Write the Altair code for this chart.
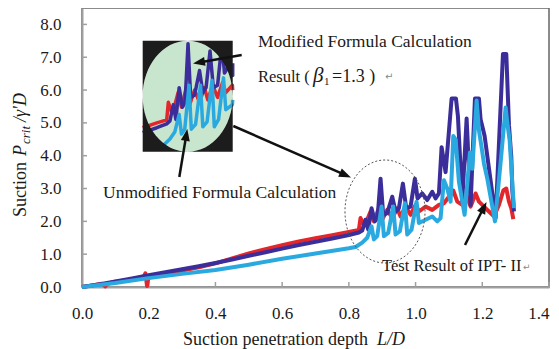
import math
import altair as alt
import pandas as pd

# ---------------- data ----------------
TEST_X = [0, 0.03, 0.06, 0.07, 0.075, 0.1, 0.13, 0.16, 0.185, 0.19, 0.195, 0.2, 0.25, 0.3, 0.35,
          0.4, 0.45, 0.5, 0.55, 0.6, 0.65, 0.7, 0.75, 0.8, 0.83, 0.835, 0.845, 0.855, 0.865, 0.875,
          0.89, 0.9, 0.915, 0.93, 0.945, 0.955, 0.97, 0.985, 1.0, 1.01, 1.03, 1.05, 1.07, 1.085, 1.1,
          1.113, 1.125, 1.14, 1.155, 1.165, 1.18, 1.19, 1.205, 1.22, 1.235, 1.25, 1.263, 1.272, 1.28,
          1.287, 1.293]
TEST_Y = [0, 0.05, 0.1, 0.02, 0.1, 0.16, 0.2, 0.26, 0.31, 0.42, 0.03, 0.33, 0.42, 0.5, 0.6,
          0.72, 0.87, 1.02, 1.15, 1.27, 1.39, 1.49, 1.58, 1.68, 1.74, 2.1, 1.9, 2.05, 2.3, 2.0,
          2.4, 2.05, 2.35, 2.1, 2.4, 2.15, 2.45, 2.2, 2.5, 2.3, 2.45, 2.35, 2.5, 2.55, 2.75,
          2.94, 2.6, 2.5, 2.75, 2.45, 2.85, 2.6, 2.45, 2.3, 2.15, 2.5, 2.94, 3.0, 2.6,
          2.4, 2.07]

MOD_X = [0, 0.05, 0.1, 0.15, 0.2, 0.25, 0.3, 0.35, 0.4, 0.45, 0.5, 0.55, 0.6, 0.65, 0.7,
         0.75, 0.8, 0.83, 0.84, 0.85, 0.858, 0.868, 0.878, 0.886, 0.895, 0.903, 0.915, 0.93, 0.94, 0.95,
         0.962, 0.972, 0.985, 0.998, 1.006, 1.02, 1.035, 1.05, 1.06, 1.07, 1.078, 1.09, 1.108, 1.121,
         1.127, 1.14, 1.153, 1.165, 1.178, 1.19, 1.195, 1.2, 1.207, 1.24, 1.262, 1.272, 1.28, 1.287,
         1.29, 1.295]
MOD_Y = [0, 0.08, 0.17, 0.26, 0.36, 0.45, 0.54, 0.63, 0.73, 0.84, 0.95, 1.06, 1.17, 1.28, 1.38,
         1.48, 1.58, 1.66, 1.72, 2.05, 1.75, 2.4, 2.0, 2.1, 3.3, 2.2, 2.25, 2.75, 2.3, 2.4,
         3.15, 2.4, 2.45, 3.3, 2.7, 2.85, 2.65, 2.9, 2.7, 2.85, 4.26, 3.5, 5.74, 5.74,
         5.2, 2.6, 5.13, 2.5, 5.74, 5.74, 5.1, 4.9, 4.6, 2.1, 7.1, 7.1, 4.93, 3.96,
         2.95, 2.3]

UNMOD_X = [0, 0.1, 0.2, 0.3, 0.4, 0.5, 0.6, 0.7, 0.8, 0.82, 0.84, 0.855, 0.868, 0.875, 0.885,
           0.898, 0.905, 0.918, 0.933, 0.94, 0.953, 0.968, 0.975, 0.988, 1.003, 1.01, 1.03, 1.05,
           1.065, 1.075, 1.085, 1.095, 1.105, 1.113, 1.12, 1.13, 1.147, 1.163, 1.17, 1.183, 1.19,
           1.198, 1.205, 1.215, 1.238, 1.255, 1.27, 1.275, 1.282, 1.288, 1.295]
UNMOD_Y = [0, 0.12, 0.27, 0.4, 0.52, 0.68, 0.86, 1.02, 1.18, 1.22, 1.35, 1.5, 1.85, 1.45, 1.55,
           2.45, 1.55, 1.65, 2.45, 1.6, 1.7, 2.55, 1.6, 1.75, 2.6, 1.95, 2.05, 2.15,
           2.0, 2.1, 3.25, 3.0, 2.6, 4.6, 4.5, 3.2, 2.2, 4.1, 3.6, 5.68, 4.77,
           4.25, 3.76, 3.3, 2.0, 3.8, 5.47, 5.0, 4.47, 3.5, 2.4]

X_TICKS = [0.0, 0.2, 0.4, 0.6, 0.8, 1.0, 1.2, 1.4]
Y_TICKS = [0, 1, 2, 3, 4, 5, 6, 7, 8]

assert len(TEST_X) == len(TEST_Y)
assert len(MOD_X) == len(MOD_Y)
assert len(UNMOD_X) == len(UNMOD_Y)

# ---------------- layout / style ----------------
W, H = 467, 279
OX, OY = 82, 8          # page position of the plot origin
SERIF = "Liberation Serif"
RED, DARK, LIGHT = "#e3262b", "#3b2e9a", "#2aa9e0"


def frame(xs, ys):
    return pd.DataFrame({"x": xs, "y": ys, "i": range(len(xs))})


df_test, df_mod, df_unmod = frame(TEST_X, TEST_Y), frame(MOD_X, MOD_Y), frame(UNMOD_X, UNMOD_Y)

xscale = alt.Scale(domain=[0, 1.4], nice=False, zero=False)
yscale = alt.Scale(domain=[0, 8.5], nice=False, zero=False)
xaxis = alt.Axis(values=X_TICKS, format=".1f", ticks=False, grid=False, title=None,
                 labelFlush=False, labelOverlap=False, labelPadding=18,
                 labelAlign={"condition": {"test": "datum.value >= 1.39", "value": "right"},
                             "value": "center"},
                 labelFont=SERIF, labelFontSize=17, labelColor="#1a1a1a",
                 domainColor="#a0a0a0", domainWidth=2)
yaxis = alt.Axis(values=Y_TICKS, format=".1f", ticks=False, grid=False, title=None,
                 labelOverlap=False, labelPadding=21,
                 labelFont=SERIF, labelFontSize=17, labelColor="#1a1a1a",
                 domainColor="#a0a0a0", domainWidth=2)


def main_line(df, color):
    return alt.Chart(df).mark_line(color=color, strokeWidth=4, strokeJoin="round").encode(
        x=alt.X("x:Q", scale=xscale, axis=xaxis),
        y=alt.Y("y:Q", scale=yscale, axis=yaxis),
        order="i:Q",
    )


xticks = alt.Chart(pd.DataFrame({"x": X_TICKS})).mark_rule(color="#a0a0a0", strokeWidth=1.5).encode(
    x=alt.X("x:Q", scale=xscale, axis=xaxis), y=alt.value(H), y2=alt.value(H - 5))
yticks = alt.Chart(pd.DataFrame({"y": Y_TICKS})).mark_rule(color="#a0a0a0", strokeWidth=1.5).encode(
    y=alt.Y("y:Q", scale=yscale, axis=yaxis), x=alt.value(0), x2=alt.value(5))

main = alt.layer(xticks, yticks, main_line(df_test, RED), main_line(df_mod, DARK),
                 main_line(df_unmod, LIGHT))

# ---------------- magnified inset (same data, own scales) ----------------
INSET_L, INSET_R, INSET_T, INSET_B = 142.7 - OX, 232.7 - OX, 40.7 - OY, 151.7 - OY
icx, icy = (INSET_L + INSET_R) / 2, (INSET_T + INSET_B) / 2
ix = alt.Scale(domain=[0.757, 1.031], range=[INSET_L, INSET_R], clamp=True, nice=False, zero=False)
iy = alt.Scale(domain=[1.09, 3.36], range=[INSET_B, INSET_T], clamp=True, nice=False, zero=False)

one = pd.DataFrame({"a": [0]})
rx = (INSET_R - INSET_L) / (INSET_B - INSET_T)
ell = f"M{-rx:.3f},0A{rx:.3f},1 0 1,0 {rx:.3f},0A{rx:.3f},1 0 1,0 {-rx:.3f},0Z"
ell_cw = f"M{-rx:.3f},0A{rx:.3f},1 0 1,1 {rx:.3f},0A{rx:.3f},1 0 1,1 {-rx:.3f},0Z"
rect = f"M{-rx:.3f},-1L{rx:.3f},-1L{rx:.3f},1L{-rx:.3f},1Z"
isize = (INSET_B - INSET_T) ** 2

green = alt.Chart(one).mark_point(shape=ell_cw, filled=True, fill="#c8e5cd", opacity=1,
                                  strokeWidth=0, size=isize).encode(
    x=alt.value(icx), y=alt.value(icy))
black = alt.Chart(one).mark_point(shape=rect + ell, filled=True, fill="#1c1c1c", opacity=1,
                                  strokeWidth=0, size=isize).encode(
    x=alt.value(icx), y=alt.value(icy))


def inset_line(df, color):
    return alt.Chart(df).transform_filter("datum.x >= 0.74 && datum.x <= 1.05").mark_line(
        color=color, strokeWidth=3.5, strokeJoin="round").encode(
        x=alt.X("x:Q", scale=ix, axis=None),
        y=alt.Y("y:Q", scale=iy, axis=None),
        order="i:Q",
    )


inset = alt.layer(green, inset_line(df_test, RED), inset_line(df_mod, DARK),
                  inset_line(df_unmod, LIGHT), black)

# ---------------- annotations ----------------
layers = []

# dotted ellipse around the magnified region
ecx, ecy, erx, ery = 385 - OX, 211.5 - OY, 40, 51.5
er = erx / ery
dotted = f"M{-er:.3f},0A{er:.3f},1 0 1,0 {er:.3f},0A{er:.3f},1 0 1,0 {-er:.3f},0Z"
layers.append(alt.Chart(one).mark_point(shape=dotted, filled=False, stroke="#555", strokeWidth=1,
                                        strokeDash=[2, 2], opacity=1, size=(2 * ery) ** 2).encode(
    x=alt.value(ecx), y=alt.value(ecy)))


def arrow(tail, tip):
    tx, ty = tail[0] - OX, tail[1] - OY
    px, py = tip[0] - OX, tip[1] - OY
    dx, dy = px - tx, py - ty
    n = math.hypot(dx, dy)
    ux, uy = dx / n, dy / n
    ang = math.degrees(math.atan2(ux, -uy)) % 360
    shaft = alt.Chart(one).mark_rule(color="#111", strokeWidth=2.5).encode(
        x=alt.value(tx), y=alt.value(ty), x2=alt.value(px - 9 * ux), y2=alt.value(py - 9 * uy))
    head = alt.Chart(one).mark_point(shape="M0,-1L0.75,1L-0.75,1Z", filled=True, fill="#111",
                                     opacity=1, strokeWidth=0, size=144, angle=ang).encode(
        x=alt.value(px - 6 * ux), y=alt.value(py - 6 * uy))
    return [shaft, head]


layers += arrow((241.7, 55), (193, 63.5))
layers += arrow((179.3, 177), (187.3, 129))
layers += arrow((233.3, 126), (351, 177.5))
layers += arrow((465, 245), (486.5, 202))


def txt(s, x, y, size=17.5, style="normal", color="#1a1a1a", angle=0, font=SERIF):
    return alt.Chart(one).mark_text(text=s, font=font, fontSize=size, fontStyle=style, color=color,
                                    align="left", baseline="alphabetic", angle=angle).encode(
        x=alt.value(x - OX), y=alt.value(y - OY))


layers += [
    txt("Modified Formula Calculation", 258, 47),
    txt("Result (", 258, 81.5, size=16.5),
    txt("β", 313, 81.5, size=21, style="italic"),
    txt("1", 324, 85, size=11),
    txt("=1.3 )", 332, 81.5, size=18),
    txt("↵", 385, 80, size=10, color="#888", font="DejaVu Sans"),
    txt("Unmodified Formula Calculation", 103, 198),
    txt("Test Result of IPT- II", 382, 271, size=16.5),
    txt("↵", 523, 270, size=9, color="#888", font="DejaVu Sans"),
    # x axis title
    txt("Suction penetration depth", 183, 345, size=18),
    txt("L/D", 377, 345, size=18, style="italic"),
    # y axis title (rotated)
    txt("Suction", 26, 217, size=18, angle=270),
    txt("P", 26, 156, size=18, style="italic", angle=270),
    txt("crit", 30, 144, size=13, style="italic", angle=270),
    txt("/γ'D", 26, 122, size=18, style="italic", angle=270),
]

annot = alt.layer(*layers)

chart = alt.layer(main, inset, annot).resolve_scale(x="independent", y="independent").properties(
    width=W, height=H,
    padding={"left": OX - 8, "top": OY - 8, "right": 2, "bottom": 62},
    autosize=alt.AutoSizeParams(type="none"),
).configure_view(stroke="#666", strokeWidth=1.5).configure_axis(
    labelFont=SERIF, labelFontSize=17, labelColor="#1a1a1a")

chart.save("out.html", embed_options={"renderer": "svg", "actions": False})
